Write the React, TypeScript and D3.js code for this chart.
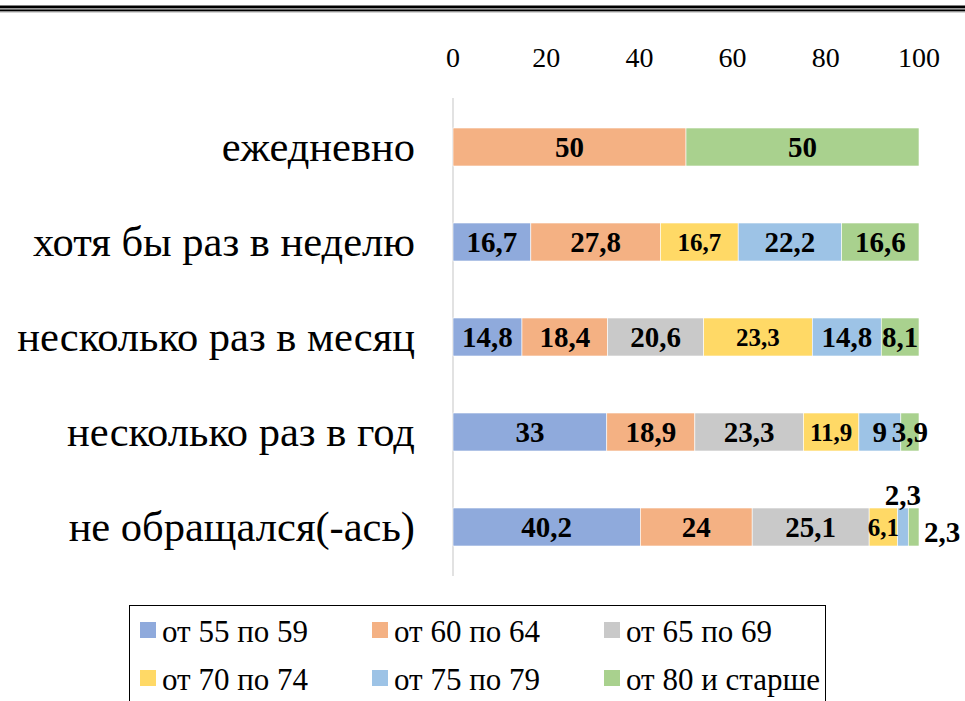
import React from "react";
import * as d3 from "d3";

const categories = [
  "ежедневно",
  "хотя бы раз в неделю",
  "несколько раз в месяц",
  "несколько раз в год",
  "не обращался(-ась)",
];
const seriesNames = [
  "от 55 по 59",
  "от 60 по 64",
  "от 65 по 69",
  "от 70 по 74",
  "от 75 по 79",
  "от 80 и старше",
];
const s55 = [0, 16.7, 14.8, 33, 40.2];
const s60 = [50, 27.8, 18.4, 18.9, 24];
const s65 = [0, 0, 20.6, 23.3, 25.1];
const s70 = [0, 16.7, 23.3, 11.9, 6.1];
const s75 = [0, 22.2, 14.8, 9, 2.3];
const s80 = [50, 16.6, 8.1, 3.9, 2.3];
const seriesValues = [s55, s60, s65, s70, s75, s80];
const colors = ["#8FAADC", "#F4B183", "#C9C9C9", "#FFD966", "#9DC3E6", "#A9D18E"];
const ticks = [0, 20, 40, 60, 80, 100];

const W = 965;
const H = 701;
const FONT = "'Times New Roman', Times, 'Liberation Serif', 'DejaVu Serif', serif";

export default function App() {
  const x = d3.scaleLinear().domain([0, 100]).range([453, 919]);
  const y = d3
    .scaleBand<string>()
    .domain(categories)
    .range([99.5, 574.5])
    .paddingInner(0.6)
    .paddingOuter(0.3);

  const rows = categories.map((c, i) => {
    const o: any = { cat: c };
    seriesNames.forEach((s, j) => (o[s] = seriesValues[j][i]));
    return o;
  });
  const stacked = d3.stack<any>().keys(seriesNames)(rows);
  const bh = y.bandwidth();

  const legendCols = [140, 372, 604];
  const legendRows = [622, 670];

  const txt = (extra: any) => ({ fontFamily: FONT, ...extra });

  return (
    <div style={{ position: "absolute", left: 0, top: 0 }}>
      <svg width={W} height={H} style={{ display: "block", background: "#fff", fontFamily: FONT }}>
        <rect x={0} y={5.5} width={W} height={2.5} fill="#000" />
        <rect x={0} y={8} width={W} height={1.5} fill="#999" />
        <rect x={0} y={9.5} width={W} height={2} fill="#000" />
        <rect x={0} y={11.5} width={W} height={1} fill="#aaa" />

        {ticks.map((t) => (
          <text key={t} x={x(t)} y={67} textAnchor="middle" style={txt({ fontSize: 28 })} fill="#000">
            {t}
          </text>
        ))}
        <line x1={x(0)} x2={x(0)} y1={98} y2={576} stroke="#d9d9d9" strokeWidth={1.5} />

        {categories.map((c) => (
          <text
            key={c}
            x={415}
            y={(y(c) as number) + bh / 2 + 14}
            textAnchor="end"
            style={txt({ fontSize: 42.5 })}
            fill="#000"
          >
            {c}
          </text>
        ))}

        {stacked.map((layer, j) => (
          <g key={layer.key} fill={colors[j]}>
            {layer.map((d, i) =>
              d[1] - d[0] > 0 ? (
                <rect
                  key={i}
                  x={x(d[0])}
                  y={y(categories[i]) as number}
                  width={x(d[1]) - x(d[0])}
                  height={bh}
                  stroke="#fff"
                  strokeWidth={0.6}
                />
              ) : null
            )}
          </g>
        ))}

        {stacked.map((layer, j) =>
          layer.map((d, i) => {
            const v = d[1] - d[0];
            if (v <= 0) return null;
            const fs = j === 3 ? 25 : 29;
            const top = y(categories[i]) as number;
            let lx = (x(d[0]) + x(d[1])) / 2;
            let ly = top + bh / 2 + fs * 0.34;
            if (i === 4 && j === 4) {
              ly = top - 3;
            } else if (i === 4 && j === 5) {
              lx = x(d[1]) + 23;
              ly = top + bh - 4;
            }
            const label = String(seriesValues[j][i]).replace(".", ",");
            return (
              <text
                key={`${j}-${i}`}
                x={lx}
                y={ly}
                textAnchor="middle"
                style={txt({ fontSize: fs, fontWeight: "bold" })}
                fill="#000"
              >
                {label}
              </text>
            );
          })
        )}

        <rect x={129.5} y={605.5} width={696} height={110} fill="none" stroke="#000" strokeWidth={1} />
        {seriesNames.map((s, j) => {
          const cx = legendCols[j % 3];
          const cy = legendRows[Math.floor(j / 3)];
          return (
            <g key={s}>
              <rect x={cx} y={cy} width={16} height={16} fill={colors[j]} />
              <text x={cx + 22} y={cy + 20} style={txt({ fontSize: 31 })} fill="#000">
                {s}
              </text>
            </g>
          );
        })}
      </svg>
    </div>
  );
}
